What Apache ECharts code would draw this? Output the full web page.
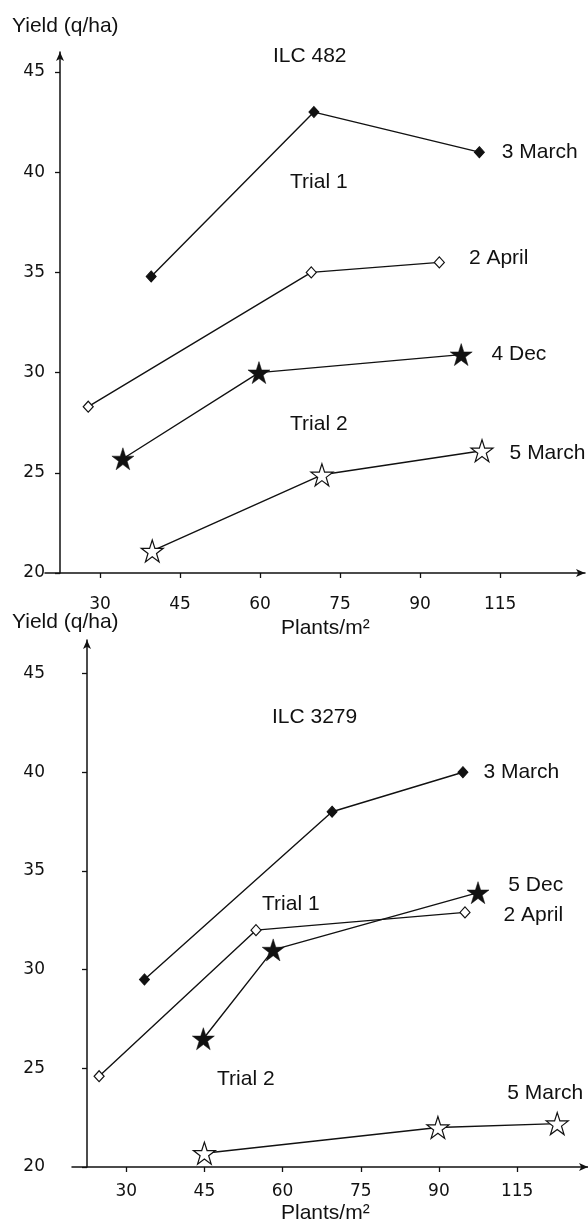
<!DOCTYPE html>
<html>
<head>
<meta charset="utf-8">
<script src="https://cdn.jsdelivr.net/npm/echarts@6/dist/echarts.min.js"></script>
<style>
html,body{margin:0;padding:0;background:#fff;}
#chart{width:588px;height:1228px;}
</style>
</head>
<body>
<div id="chart"></div>
<script>
// Tick positions on the (index-like) plant density axis and their printed labels
const xTickValues = [30, 45, 60, 75, 90, 105];
const xTickLabels = ['30', '45', '60', '75', '90', '115'];
const yTickValues = [20, 25, 30, 35, 40, 45];

// ILC 482 (top panel) — [axis position, yield q/ha]
const top3March = [[39.6, 34.8], [70.1, 43.0], [101.1, 41.0]];
const top2April = [[27.8, 28.3], [69.6, 35.0], [93.6, 35.5]];
const top4Dec   = [[34.3, 25.7], [59.8, 30.0], [97.7, 30.9]];
const top5March = [[39.8, 21.1], [71.6, 24.9], [101.6, 26.1]];

// ILC 3279 (bottom panel)
const bot3March = [[33.5, 29.5], [69.5, 38.0], [94.6, 40.0]];
const bot2April = [[24.8, 24.6], [54.9, 32.0], [95.0, 32.9]];
const bot5Dec   = [[44.8, 26.5], [58.2, 31.0], [97.5, 33.9]];
const bot5March = [[45.0, 20.7], [89.8, 22.0], [112.7, 22.2]];

const INK = '#111';
const LABEL_FONT = '"Liberation Sans", Arial, sans-serif';
const TICK_FONT = '"DejaVu Sans", sans-serif';
const STAR = 'path://M12,0.5 L14.8,8.9 L23.6,8.9 L16.5,14.1 L19.2,22.6 L12,17.4 L4.8,22.6 L7.5,14.1 L0.4,8.9 L9.2,8.9 Z';

const styles = {
  fdiamond: {symbol: 'diamond', symbolSize: [10, 11], itemStyle: {color: INK, borderColor: INK, borderWidth: 1}},
  odiamond: {symbol: 'diamond', symbolSize: [10, 11], itemStyle: {color: '#fff', borderColor: INK, borderWidth: 1.2}},
  fstar: {symbol: STAR, symbolSize: [22, 22], itemStyle: {color: INK, borderColor: INK, borderWidth: 0.5}},
  ostar: {symbol: STAR, symbolSize: [22, 22], itemStyle: {color: '#fff', borderColor: INK, borderWidth: 1.2}}
};

function mkSeries(name, pts, kind, gi, lbl) {
  const data = pts.map((p, i) => {
    if (i !== pts.length - 1) return p;
    return {
      value: p,
      label: Object.assign({
        show: true, formatter: name, color: INK,
        fontFamily: LABEL_FONT, fontSize: 21
      }, lbl)
    };
  });
  return Object.assign({
    type: 'line', name: name + (gi ? ' (ILC 3279)' : ' (ILC 482)'),
    xAxisIndex: gi, yAxisIndex: gi, data: data,
    showAllSymbol: true, animation: false,
    lineStyle: {color: INK, width: 1.4},
    z: 3
  }, styles[kind]);
}

function xAxisCfg(gi, min, max, margin) {
  return {
    type: 'value', gridIndex: gi, min: min, max: max,
    axisLine: {show: true, onZero: false, lineStyle: {color: INK, width: 1.5}, symbol: ['none', 'arrow'], symbolSize: [6, 9]},
    axisTick: {show: true, customValues: xTickValues, length: 5, lineStyle: {color: INK, width: 1.3}},
    axisLabel: {
      customValues: xTickValues, margin: margin, color: INK,
      fontFamily: TICK_FONT, fontSize: 17,
      formatter: v => { const k = xTickValues.indexOf(v); return k >= 0 ? xTickLabels[k] : ''; }
    },
    splitLine: {show: false}
  };
}
function yAxisCfg(gi, max, margin) {
  return {
    type: 'value', gridIndex: gi, min: 20, max: max, offset: -15,
    axisLine: {show: true, onZero: false, lineStyle: {color: INK, width: 1.5}, symbol: ['none', 'arrow'], symbolSize: [6, 9]},
    axisTick: {show: true, customValues: yTickValues, length: 5, lineStyle: {color: INK, width: 1.3}},
    axisLabel: {customValues: yTickValues, margin: margin, color: INK, fontFamily: TICK_FONT, fontSize: 17},
    splitLine: {show: false}
  };
}

function txt(text, x, y, align) {
  return {
    type: 'text', x: x, y: y, silent: true,
    style: {text: text, fill: INK, font: '21px ' + LABEL_FONT, align: align || 'left', verticalAlign: 'middle'}
  };
}

const chart = echarts.init(document.getElementById('chart'), null, {renderer: 'canvas'});
chart.setOption({
  backgroundColor: '#fff',
  animation: false,
  grid: [
    {left: 45, top: 52, width: 540, height: 521},
    {left: 72, top: 640, width: 516, height: 527}
  ],
  xAxis: [xAxisCfg(0, 19.7, 120.9, 23), xAxisCfg(1, 19.6, 118.6, 16)],
  yAxis: [yAxisCfg(0, 46, 15), yAxisCfg(1, 46.7, 42)],
  graphic: [
    txt('Yield (q/ha)', 12, 26),
    txt('ILC 482', 273, 56),
    txt('Trial 1', 290, 182),
    txt('Trial 2', 290, 424),
    txt('Plants/m²', 281, 628),
    txt('Yield (q/ha)', 12, 622),
    txt('ILC 3279', 272, 717),
    txt('Trial 1', 262, 904),
    txt('Trial 2', 217, 1079),
    txt('Plants/m²', 281, 1213)
  ],
  series: [
    mkSeries('3 March', top3March, 'fdiamond', 0, {position: 'right', distance: 17}),
    mkSeries('2 April', top2April, 'odiamond', 0, {position: 'right', distance: 24, offset: [0, -4]}),
    mkSeries('4 Dec', top4Dec, 'fstar', 0, {position: 'right', distance: 19}),
    mkSeries('5 March', top5March, 'ostar', 0, {position: 'right', distance: 16, offset: [0, 2]}),
    mkSeries('3 March', bot3March, 'fdiamond', 1, {position: 'right', distance: 15}),
    mkSeries('2 April', bot2April, 'odiamond', 1, {position: 'right', distance: 33, offset: [0, 3]}),
    mkSeries('5 Dec', bot5Dec, 'fstar', 1, {position: 'right', distance: 19, offset: [0, -7]}),
    mkSeries('5 March', bot5March, 'ostar', 1, {position: 'top', distance: 8, offset: [-12, 0]})
  ]
});
</script>
</body>
</html>
